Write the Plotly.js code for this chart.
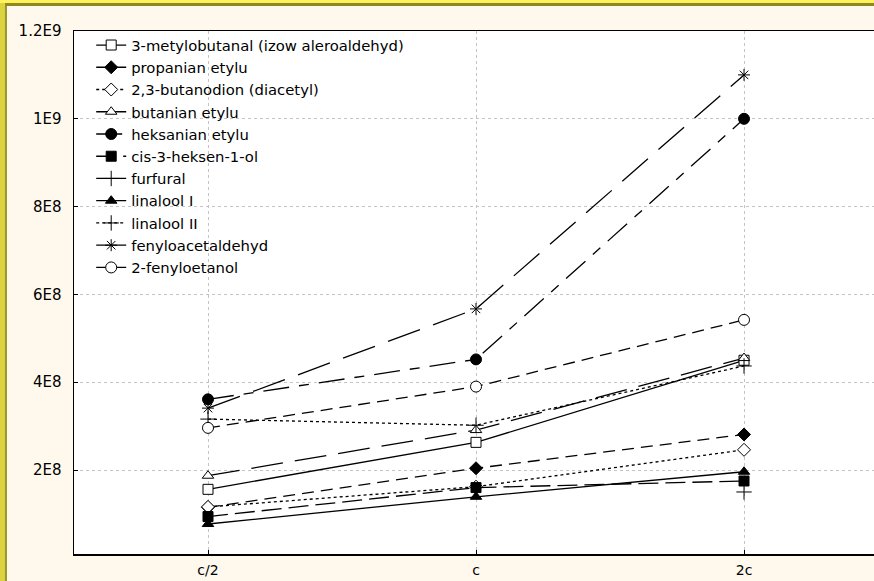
<!DOCTYPE html>
<html>
<head>
<meta charset="utf-8">
<script src="https://cdn.plot.ly/plotly-3.0.1.min.js"></script>
<style>html,body{margin:0;padding:0;background:#FFF9ED;}#chart{width:874px;height:581px;}</style>
</head>
<body>
<div id="chart"></div>
<script>
// ---- data ----
const categories = ["c/2", "c", "2c"];
const seriesNames = [
  "3-metylobutanal (izow aleroaldehyd)",
  "propanian etylu",
  "2,3-butanodion (diacetyl)",
  "butanian etylu",
  "heksanian etylu",
  "cis-3-heksen-1-ol",
  "furfural",
  "linalool I",
  "linalool II",
  "fenyloacetaldehyd",
  "2-fenyloetanol"
];
const metylobutanal     = [1.56e8, 2.63e8, 4.50e8];
const propanian         = [1.15e8, 2.04e8, 2.81e8];
const butanodion        = [1.16e8, 1.62e8, 2.46e8];
const butanian          = [1.87e8, 2.91e8, 4.55e8];
const heksanian         = [3.61e8, 4.52e8, 1.00e9];
const cisHeksenol       = [0.94e8, 1.60e8, 1.75e8];
const furfural          = [null, null, 1.50e8];
const linaloolI         = [0.77e8, 1.39e8, 1.96e8];
const linaloolII        = [3.16e8, 3.02e8, 4.37e8];
const fenyloacetaldehyd = [3.41e8, 5.67e8, 1.10e9];
const fenyloetanol      = [2.96e8, 3.90e8, 5.42e8];
const yTickVals  = [2e8, 4e8, 6e8, 8e8, 1e9, 1.2e9];
const yTickText  = ["2E8", "4E8", "6E8", "8E8", "1E9", "1.2E9"];

// ---- styles ----
const values = [metylobutanal, propanian, butanodion, butanian, heksanian, cisHeksenol,
                furfural, linaloolI, linaloolII, fenyloacetaldehyd, fenyloetanol];
const styles = [
  {dash: "solid",               symbol: "square",        fill: "white", size: 10},
  {dash: "12px,7px",            symbol: "diamond",       fill: "black", size: 10},
  {dash: "3px,3px",             symbol: "diamond",       fill: "white", size: 10},
  {dash: "32px,12px",           symbol: "triangle-up",   fill: "white", size: 10},
  {dash: "26px,10px,10px,10px", symbol: "circle",        fill: "black", size: 11},
  {dash: "20px,7px",            symbol: "square",        fill: "black", size: 10},
  {dash: "solid",               symbol: "cross-thin",    fill: "black", size: 11},
  {dash: "solid",               symbol: "triangle-up",   fill: "black", size: 10},
  {dash: "3px,3px",             symbol: "cross-thin",    fill: "black", size: 11},
  {dash: "34px,14px",           symbol: "asterisk",      fill: "black", size: 10},
  {dash: "12px,7px",            symbol: "circle",        fill: "white", size: 11}
];

const traces = values.map((v, i) => ({
  type: "scatter",
  mode: "lines+markers",
  name: seriesNames[i],
  x: categories,
  y: v,
  line: {color: "black", width: 1.3, dash: styles[i].dash},
  marker: {symbol: styles[i].symbol, size: styles[i].size, color: styles[i].fill,
           line: {color: "black", width: 1}},
  connectgaps: false
}));

const font = "DejaVu Sans, Liberation Sans, Arial, sans-serif";

const layout = {
  width: 874, height: 581,
  paper_bgcolor: "#FFF9ED",
  plot_bgcolor: "#FFFFFF",
  margin: {l: 74, r: 0, t: 31, b: 27, pad: 0},
  showlegend: true,
  legend: {
    x: 0.0215, y: 1.004, xanchor: "left", yanchor: "top",
    bgcolor: "rgba(0,0,0,0)", borderwidth: 0,
    font: {family: font, size: 14.8, color: "black"},
    itemwidth: 30
  },
  xaxis: {
    type: "category",
    range: [-0.5, 2.485],
    showgrid: true, gridcolor: "#c4c4c4", griddash: "dot", gridwidth: 1,
    showline: true, linecolor: "black", linewidth: 1.5, mirror: true,
    ticks: "inside", ticklen: 4, tickcolor: "black",
    tickfont: {family: font, size: 14, color: "black"},
    ticklabelstandoff: 3,
    zeroline: false, fixedrange: true
  },
  yaxis: {
    range: [8.7e6, 1.2e9],
    tickvals: yTickVals, ticktext: yTickText,
    showgrid: true, gridcolor: "#c4c4c4", griddash: "dot", gridwidth: 1,
    showline: true, linecolor: "black", linewidth: 1.5, mirror: true,
    ticks: "inside", ticklen: 4, tickcolor: "black",
    tickfont: {family: font, size: 15, color: "black"},
    ticklabelstandoff: 8,
    zeroline: false, fixedrange: true
  },
  shapes: [
    // yellow frame of the picture (top and left)
    {type: "rect", xref: "paper", yref: "paper", x0: -0.1, x1: 1.01, y0: 1.0535, y1: 1.07,
     fillcolor: "#FFF25C", line: {width: 0}, layer: "above"},
    {type: "rect", xref: "paper", yref: "paper", x0: -0.0865, x1: 1.01, y0: 1.0478, y1: 1.0535,
     fillcolor: "#8E8A22", line: {width: 0}, layer: "above"},
    {type: "rect", xref: "paper", yref: "paper", x0: -0.1, x1: -0.0865, y0: -0.06, y1: 1.0535,
     fillcolor: "#DCD43E", line: {width: 0}, layer: "above"},
    {type: "rect", xref: "paper", yref: "paper", x0: -0.0865, x1: -0.0838, y0: -0.06, y1: 1.0478,
     fillcolor: "#9C971E", line: {width: 0}, layer: "above"}
  ]
};

Plotly.newPlot("chart", traces, layout, {displayModeBar: false, staticPlot: true});
</script>
</body>
</html>
